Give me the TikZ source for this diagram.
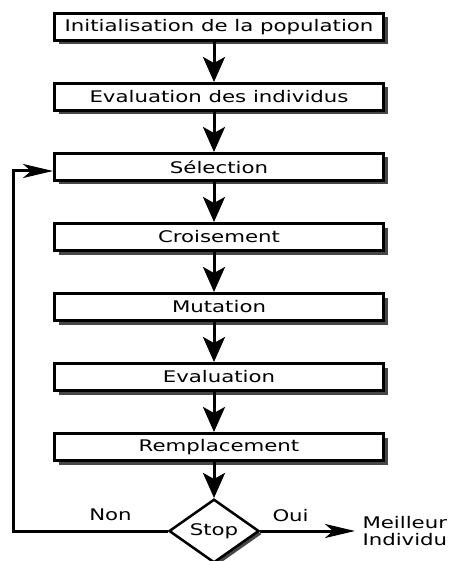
\documentclass[tikz,border=0pt]{standalone}
\usepackage{fontspec}
\newfontfamily\schemafont[FakeStretch=1.33]{DejaVu Sans}
\usetikzlibrary{arrows.meta,shapes.geometric,shadows}

\begin{document}
\begin{tikzpicture}[->,>={Stealth[length=25pt,width=22pt,inset=6pt]},line width=3pt,
                    x=1pt,y=1pt,node distance=70pt,
                    font=\schemafont\fontsize{16}{16.5}\selectfont]

  \tikzstyle{etape}=[rectangle,draw,fill=white,line width=3pt,
                     minimum width=329pt,minimum height=27pt,inner sep=0pt,
                     drop shadow={shadow xshift=4pt,shadow yshift=-4pt,fill=black!72,opacity=1}]
  \tikzstyle{decision}=[diamond,draw,fill=white,line width=2.5pt,
                     minimum width=90pt,minimum height=54pt,inner sep=0pt,
                     drop shadow={shadow xshift=3pt,shadow yshift=-3pt,fill=black!72,opacity=1}]
  \tikzstyle{horiz}=[-{Stealth[length=30pt,width=14pt,inset=8pt]}]

  \useasboundingbox (0,0) rectangle (451,-561);

  \node[etape] (init) at (219,-27)        {Initialisation de la population};
  \node[etape] (evalpop) [below of=init]  {Evaluation des individus};
  \node[etape] (sel)   [below of=evalpop] {Sélection};
  \node[etape] (crois) [below of=sel]     {Croisement};
  \node[etape] (mut)   [below of=crois]   {Mutation};
  \node[etape] (eval)  [below of=mut]     {Evaluation};
  \node[etape] (rempl) [below of=eval]    {Remplacement};
  \node[decision] (stop) [below of=rempl,node distance=84pt,xshift=-5pt] {Stop};
  \node[align=left,anchor=west,inner xsep=6pt] (best) at (355,-531) {Meilleur\\Individu};
  \coordinate (coin) at (13,-531);

  \draw (init.south -| stop)    -- (evalpop.north -| stop);
  \draw (evalpop.south -| stop) -- (sel.north -| stop);
  \draw (sel.south -| stop)     -- (crois.north -| stop);
  \draw (crois.south -| stop)   -- (mut.north -| stop);
  \draw (mut.south -| stop)     -- (eval.north -| stop);
  \draw (eval.south -| stop)    -- (rempl.north -| stop);
  \draw (rempl.south -| stop)   -- (stop.north);
  \draw[horiz] (stop.west) -- node[above=5pt,pos=0.37] {Non} (coin) |- ([yshift=-4pt]sel.west);
  \draw[horiz] (stop.east) -- node[above=4pt,pos=0.32] {Oui} (best);
\end{tikzpicture}
\end{document}
